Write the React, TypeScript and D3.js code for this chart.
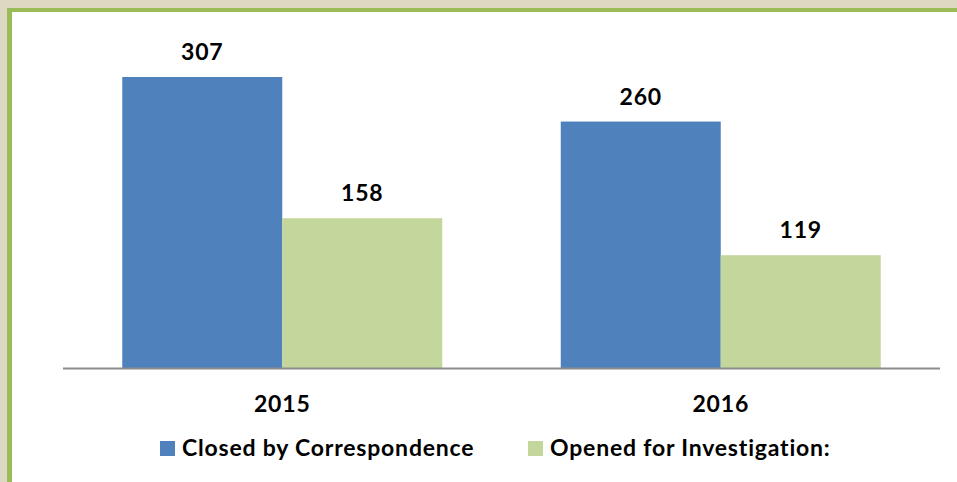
import React from "react";
import * as d3 from "d3";

const categories = ["2015", "2016"];
const seriesNames = ["Closed by Correspondence", "Opened for Investigation:"];
const closedValues = [307, 260];
const openedValues = [158, 119];
const colors = ["#4F81BD", "#C3D69B"];

const W = 957;
const H = 482;

export default function App() {
  const plotL = 63;
  const plotR = 940;
  const x0 = d3.scaleBand().domain(categories).range([plotL, plotR]);
  const groupW = 320;
  const x1 = d3.scaleBand().domain(seriesNames).range([0, groupW]);
  const baseY = 368;
  const y = d3.scaleLinear().domain([0, 307]).range([baseY, 77]);
  const series = [closedValues, openedValues];
  const font = "Lato, 'Liberation Sans', sans-serif";
  const fs = 23;
  const ls = 0.8;

  return (
    <svg width={W} height={H} style={{ position: "absolute", left: 0, top: 0 }}>
      <rect x={0} y={0} width={W} height={H} fill="#DDD8C2" />
      <rect x={7} y={8} width={W} height={H} fill="#9BBB59" />
      <rect x={12} y={12} width={W} height={H} fill="#FFFFFF" />
      {categories.map((c, i) => {
        const center = (x0(c) as number) + x0.bandwidth() / 2;
        const gx = center - groupW / 2;
        return (
          <g key={c}>
            {series.map((vals, s) => (
              <g key={s}>
                <rect
                  x={gx + (x1(seriesNames[s]) as number)}
                  y={y(vals[i])}
                  width={x1.bandwidth()}
                  height={baseY - y(vals[i])}
                  fill={colors[s]}
                />
                <text
                  x={gx + (x1(seriesNames[s]) as number) + x1.bandwidth() / 2}
                  y={y(vals[i]) - 17}
                  textAnchor="middle"
                  fontFamily={font}
                  fontWeight="bold"
                  fontSize={fs}
                  letterSpacing={ls}
                  fill="#000"
                >
                  {vals[i]}
                </text>
              </g>
            ))}
            <text x={center} y={412} textAnchor="middle" fontFamily={font} fontWeight="bold" fontSize={fs} letterSpacing={ls} fill="#000">
              {c}
            </text>
          </g>
        );
      })}
      <line x1={plotL} x2={plotR} y1={baseY + 0.5} y2={baseY + 0.5} stroke="#8C8C8C" strokeWidth={2} />
      {seriesNames.map((n, s) => {
        const lx = s === 0 ? 160 : 528;
        return (
          <g key={n}>
            <rect x={lx} y={441} width={15} height={15} fill={colors[s]} />
            <text x={lx + 22} y={456} fontFamily={font} fontWeight="bold" fontSize={fs} letterSpacing={ls} fill="#000">
              {n}
            </text>
          </g>
        );
      })}
    </svg>
  );
}
